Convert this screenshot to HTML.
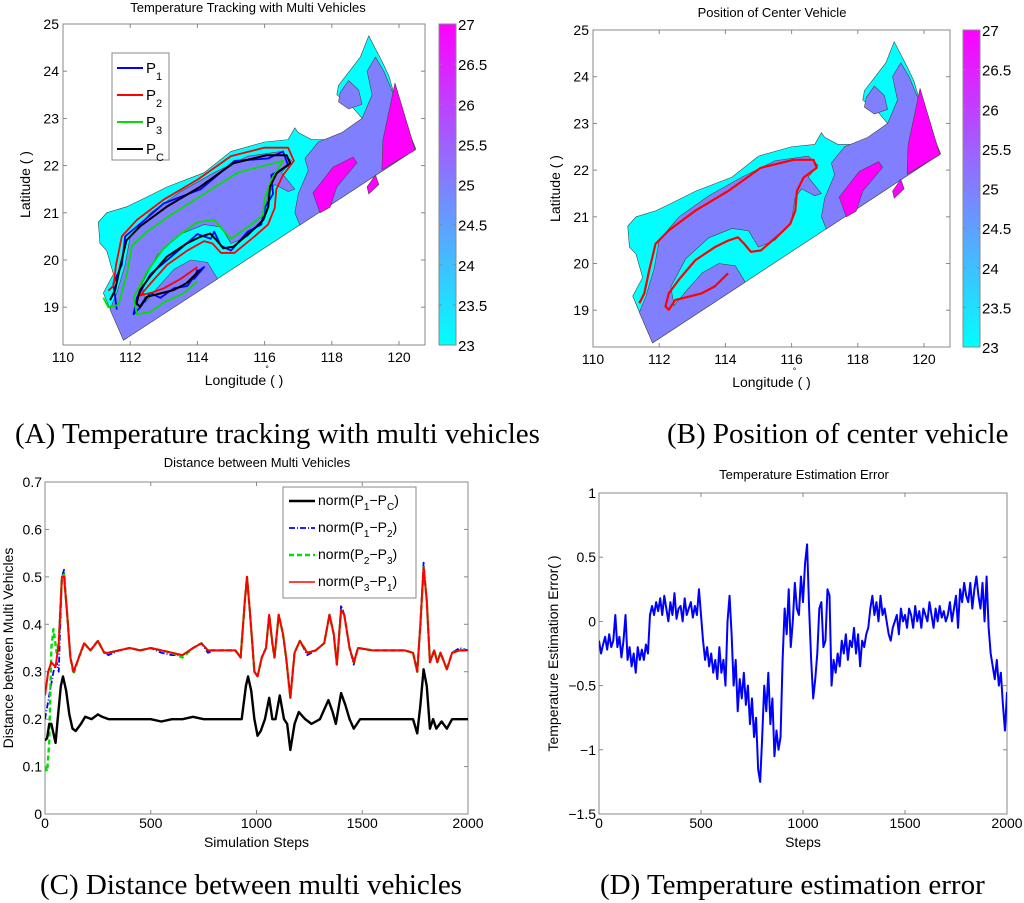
<!DOCTYPE html>
<html><head><meta charset="utf-8"><style>
body{margin:0;background:#fff}
svg{display:block;font-family:"Liberation Sans",sans-serif}
.cap{font-family:"Liberation Serif",serif;font-size:29px}
</style></head><body>
<svg id="root" width="1024" height="903" viewBox="0 0 1024 903">
<defs>
<linearGradient id="cool" x1="0" y1="1" x2="0" y2="0"><stop offset="0" stop-color="#00ffff"/><stop offset="1" stop-color="#ff00ff"/></linearGradient>
<clipPath id="clipA"><rect x="63" y="24" width="362" height="321"/></clipPath>
<clipPath id="clipB"><rect x="593" y="30" width="357" height="317"/></clipPath>
<clipPath id="clipC"><rect x="45" y="482" width="423" height="332"/></clipPath>
<clipPath id="clipD"><rect x="599" y="493" width="408" height="321"/></clipPath>
</defs>
<g id="gA"></g>
<g id="gB"></g>
<g id="gC"></g>
<g id="gD"></g>
<text class="cap" x="15" y="443">(A) Temperature tracking with multi vehicles</text>
<text class="cap" x="667" y="443">(B) Position of center vehicle</text>
<text class="cap" x="40" y="894">(C) Distance between multi vehicles</text>
<text class="cap" x="600" y="894">(D) Temperature estimation error</text>
</svg>
<script>
// ---- map data (lon, lat) ----
const outlineLon=[111.8,120.5,119.9,119.7,119.5,119.1,118.85,118.2,118.15,118.6,118.9,119.1,118.5,118.0,117.4,117.0,116.9,116.7,116.0,115.0,114.2,113.1,112.4,111.9,111.3,111.05,111.1,111.3,111.5,111.2];
const outlineLat=[18.3,22.35,23.4,23.9,24.2,24.75,24.3,23.7,23.5,23.25,23.0,22.9,22.65,22.55,22.55,22.7,22.8,22.55,22.5,22.3,21.85,21.55,21.3,21.13,21.0,20.8,20.35,20.2,19.7,19.3];
const purpleSWLon=[111.8,114.6,114.3,113.8,113.3,112.8,112.45,112.35,112.8,113.5,114.2,114.7,115.0,115.5,116.0,116.1,116.3,116.7,116.9,116.5,116.8,116.5,115.5,114.5,113.5,112.6,112.0,111.85,111.6,111.4];
const purpleSWLat=[18.3,19.6,19.95,20.0,19.8,19.4,19.1,19.5,20.1,20.55,20.75,20.7,20.35,20.5,20.9,21.4,21.6,21.45,21.5,21.85,22.1,22.3,22.2,21.85,21.45,21.0,20.5,19.9,19.3,18.95];
const purpleELon=[117.05,120.5,119.9,119.55,119.3,119.05,119.2,118.9,118.3,117.6,117.2,117.3,117.0,116.9];
const purpleELat=[20.74,22.35,23.4,24.0,24.3,24.0,23.5,23.0,22.7,22.5,22.15,21.9,21.4,21.0];
const purpleHLon=[118.25,118.5,118.8,118.9,118.5,118.2];
const purpleHLat=[23.55,23.8,23.6,23.3,23.2,23.35];
const magARLon=[119.88,120.48,119.49,119.52,119.73];
const magARLat=[23.75,22.33,21.91,22.54,23.24];
const magBLon=[118.04,118.63,118.75,118.15,117.95,117.65,117.44];
const magBLat=[21.97,22.18,22.06,21.55,21.12,21.0,21.42];
const magCLon=[119.05,119.3,119.4,119.1];
const magCLat=[21.55,21.8,21.6,21.4];
// trajectories
const pcLon=[111.40,111.55,111.70,111.89,112.29,113.09,114.08,115.07,116.06,116.66,116.76,116.36,116.16,116.11,115.96,115.66,115.07,114.77,114.57,114.38,114.08,113.68,113.09,112.59,112.29,112.19,112.29,112.49,112.89,113.28,113.68,114.08];
const pcLat=[19.15,19.36,19.86,20.42,20.71,21.13,21.55,22.05,22.22,22.22,22.05,21.84,21.55,21.13,20.85,20.64,20.28,20.25,20.42,20.56,20.49,20.35,20.07,19.65,19.36,19.08,19.01,19.22,19.29,19.36,19.51,19.79];
const p2Lon=[111.35,111.5,111.58,111.75,112.2,113.0,114.0,115.0,116.0,116.7,116.87,116.55,116.35,116.3,116.1,115.7,115.1,114.7,114.45,114.2,113.7,113.1,112.6,112.3,112.6,113.0,113.5,114.0];
const p2Lat=[19.35,19.45,19.9,20.5,20.85,21.28,21.7,22.2,22.38,22.38,22.1,21.8,21.5,21.1,20.75,20.5,20.15,20.15,20.35,20.4,20.2,19.9,19.5,19.25,19.3,19.4,19.6,19.85];
const p3Lon=[111.2,111.35,111.65,111.9,112.05,112.5,113.2,114.2,115.2,116.0,116.55,116.2,116.0,115.95,115.6,115.0,114.8,114.5,114.0,113.5,113.0,112.5,112.1,112.2,112.6,113.0,113.6,114.0];
const p3Lat=[19.2,19.0,19.05,19.7,20.3,20.6,20.95,21.4,21.85,22.0,22.1,21.7,21.3,20.95,20.75,20.45,20.6,20.85,20.8,20.55,20.25,19.75,19.2,18.85,18.9,19.1,19.3,19.55];
const p1Lon=[111.6,111.5,111.75,111.85,112.35,113.0,114.1,115.1,116.1,116.55,116.7,116.2,116.25,116.0,115.9,115.5,115.0,114.7,114.5,114.4,114.0,113.6,113.1,112.6,112.2,112.1,112.3,112.6,112.9,113.3,113.7,114.0,114.2,113.9,114.0];
const p1Lat=[18.95,19.5,19.9,20.5,20.8,21.2,21.5,22.1,22.15,22.3,22.0,21.8,21.4,21.1,20.75,20.6,20.2,20.3,20.6,20.45,20.55,20.3,20.0,19.7,19.2,18.85,19.0,19.3,19.2,19.4,19.45,19.75,19.85,19.6,19.8];
// ---- chart C data ----
const cStepsK=[0,10,20,30,40,50,60,75,85,100,115,130,145,170,190,220,250,270,300,350,400,450,500,550,600,650,700,750,800,850,900,930,950,960,975,990,1005,1020,1040,1060,1075,1090,1110,1130,1145,1160,1180,1200,1230,1260,1300,1340,1360,1375,1400,1420,1440,1460,1490,1550,1600,1650,1700,1740,1760,1775,1790,1805,1820,1835,1850,1875,1900,1925,1960,2000];
const cValsK=[.155,.16,.19,.19,.17,.15,.2,.27,.29,.26,.21,.18,.175,.19,.205,.2,.21,.205,.2,.2,.2,.2,.2,.195,.2,.2,.205,.2,.2,.2,.2,.2,.27,.29,.26,.2,.165,.175,.2,.245,.2,.2,.25,.2,.19,.135,.19,.215,.2,.19,.2,.24,.215,.19,.255,.23,.2,.18,.2,.2,.2,.2,.2,.2,.17,.23,.305,.27,.18,.2,.18,.195,.18,.2,.2,.2];
const cStepsR=[0,15,30,50,65,80,90,105,120,135,160,185,215,250,280,300,350,400,450,500,550,600,650,700,740,770,800,850,900,925,945,955,970,990,1005,1025,1045,1060,1075,1085,1105,1125,1140,1160,1180,1205,1240,1280,1320,1345,1365,1380,1400,1415,1440,1460,1480,1550,1600,1650,1700,1740,1760,1775,1790,1805,1820,1840,1855,1870,1900,1925,1960,2000];
const cValsR=[.25,.3,.32,.31,.36,.5,.5,.42,.33,.3,.33,.36,.345,.365,.34,.34,.345,.35,.345,.35,.345,.34,.335,.35,.36,.345,.345,.345,.345,.33,.45,.5,.42,.3,.29,.33,.35,.42,.36,.33,.42,.38,.33,.245,.34,.365,.34,.345,.36,.42,.38,.315,.43,.42,.35,.32,.35,.345,.345,.345,.345,.34,.3,.4,.52,.45,.32,.345,.32,.34,.305,.34,.345,.345];
const cStepsG=[0,10,20,30,40,55,65,80,90,105,120,135,160,185,215,250,280,300,350,400,450,500,550,600,650,700,740,770,800,850,900,925,945,955,970,990,1005,1025,1045,1060,1075,1085,1105,1125,1140,1160,1180,1205,1240,1280,1320,1345,1365,1380,1400,1415,1440,1460,1480,1550,1600,1650,1700,1740,1760,1775,1790,1805,1820,1840,1855,1870,1900,1925,1960,2000];
const cValsG=[.1,.09,.15,.35,.39,.34,.36,.5,.505,.42,.33,.295,.33,.36,.345,.365,.34,.34,.345,.35,.345,.35,.345,.34,.33,.35,.36,.345,.345,.345,.345,.33,.45,.5,.42,.3,.29,.33,.35,.42,.36,.33,.42,.38,.33,.245,.34,.365,.34,.345,.36,.42,.38,.315,.43,.42,.35,.32,.35,.345,.345,.345,.345,.34,.3,.4,.52,.45,.32,.345,.32,.34,.305,.34,.345,.345];
const cStepsB=[0,20,40,55,65,80,90,105,120,135,160,185,215,250,280,300,350,400,450,500,550,600,650,700,740,770,800,850,900,925,945,955,970,990,1005,1025,1045,1060,1075,1085,1105,1125,1140,1160,1180,1205,1240,1280,1320,1345,1365,1380,1400,1415,1440,1460,1480,1550,1600,1650,1700,1740,1760,1775,1790,1805,1820,1840,1855,1870,1900,1925,1960,2000];
const cValsB=[.2,.25,.3,.32,.3,.5,.515,.42,.33,.3,.33,.36,.345,.365,.34,.335,.345,.35,.345,.35,.34,.335,.335,.35,.36,.34,.345,.345,.345,.33,.45,.5,.42,.3,.29,.33,.35,.42,.36,.33,.42,.38,.33,.245,.34,.365,.335,.345,.36,.42,.38,.315,.44,.42,.35,.315,.35,.345,.345,.345,.345,.34,.3,.4,.53,.45,.32,.345,.32,.34,.305,.34,.35,.345];
const cXTicks=[0,500,1000,1500,2000];
const cYTicks=[0,0.1,0.2,0.3,0.4,0.5,0.6,0.7];
// ---- chart D data (every 10 steps) ----
const dVals=[-0.15,-0.25,-0.18,-0.12,-0.22,-0.1,-0.2,-0.15,0.05,-0.2,-0.12,
-0.28,-0.15,0.05,-0.3,-0.2,-0.35,-0.25,-0.4,-0.2,-0.3,
-0.22,-0.3,-0.18,-0.25,0.05,0.12,0.05,0.15,0.08,0.18,
0.05,0.2,0.1,0.0,0.15,0.05,0.22,0.02,0.1,0.12,
0.0,0.18,0.05,0.1,0.15,0.03,0.12,0.05,0.25,0.05,
-0.15,-0.3,-0.2,-0.35,-0.25,-0.4,-0.3,-0.45,-0.2,-0.4,
-0.3,-0.5,0.0,0.2,-0.1,-0.5,-0.3,-0.7,-0.45,-0.6,
-0.4,-0.65,-0.5,-0.8,-0.6,-0.9,-0.75,-1.15,-1.25,-0.9,
-0.5,-0.7,-0.4,-0.8,-0.6,-1.05,-0.85,-1.0,-0.9,-0.3,
0.1,-0.1,0.25,-0.2,0.0,0.3,0.1,0.05,0.35,0.15,
0.45,0.6,0.1,-0.3,-0.6,-0.45,-0.25,0.1,0.15,-0.2,
-0.15,0.25,0.2,-0.5,-0.3,-0.4,-0.25,-0.35,-0.15,-0.25,
-0.1,-0.3,-0.15,-0.2,-0.05,-0.25,-0.1,-0.35,-0.15,-0.2,
-0.1,-0.05,0.1,0.2,0.05,0.15,0.0,0.2,0.05,0.1,
0.0,-0.1,-0.15,-0.05,0.0,0.05,-0.1,0.1,0.0,0.05,
-0.05,0.1,0.05,-0.05,0.12,0.0,0.08,-0.05,0.1,0.05,
0.0,0.15,0.05,-0.05,0.1,0.0,0.12,0.03,0.08,0.0,
0.05,0.15,0.0,0.1,0.2,-0.05,0.25,0.15,0.3,0.2,
0.15,0.3,0.1,0.25,0.35,0.2,0.1,0.3,0.0,0.35,
-0.05,-0.25,-0.35,-0.45,-0.3,-0.5,-0.4,-0.65,-0.85,-0.55];
const dStep=10;
const dXTicks=[0,500,1000,1500,2000];
const dYTicks=[-1.5,-1,-0.5,0,0.5,1];
const dYLabels=["\u22121.5","\u22121","\u22120.5","0","0.5","1"];
const lonTicks=[110,112,114,116,118,120];
const latTicks=[19,20,21,22,23,24,25];
const cbTicks=[23,23.5,24,24.5,25,25.5,26,26.5,27];

const NS="http://www.w3.org/2000/svg";
function mk(parent,tag,attrs){const e=document.createElementNS(NS,tag);for(const k in attrs)e.setAttribute(k,attrs[k]);parent.appendChild(e);return e;}
function txt(parent,x,y,s,size,anchor){const t=mk(parent,'text',{x:x,y:y,'font-size':size,'text-anchor':anchor||'middle'});t.textContent=s;return t;}

function drawMap(g,ax,clip,title,titleX,titleY,withLegend){
  const X=lon=>ax.l+(lon-110)*ax.sx, Y=lat=>ax.t+(25-lat)*ax.sy;
  const bg=mk(g,'rect',{x:ax.l,y:ax.t,width:ax.r-ax.l,height:ax.b-ax.t,fill:'#fff'});
  
  
  const mg=mk(g,'g',{'clip-path':'url(#'+clip+')'});
  const poly=(lo,la,fill,name)=>{const p=mk(mg,'polygon',{points:lo.map((v,i)=>X(v)+','+Y(la[i])).join(' '),fill:fill,stroke:'#444','stroke-width':0.6});
    
    };
  poly(outlineLon,outlineLat,'#00ffff','sea-region-cyan');
  poly(purpleSWLon,purpleSWLat,'#8080ff','sea-region-purple-west');
  poly(purpleELon,purpleELat,'#8080ff','sea-region-purple-east');
  poly(purpleHLon,purpleHLat,'#8080ff','sea-region-purple-hook');
  poly(magARLon,magARLat,'#ff00ff','sea-region-magenta-coast');
  poly(magBLon,magBLat,'#ff00ff','sea-region-magenta-blob');
  poly(magCLon,magCLat,'#ff00ff','sea-region-magenta-small');
  const path=(lo,la,col,w,name)=>{const p=mk(mg,'polyline',{points:lo.map((v,i)=>X(v)+','+Y(la[i])).join(' '),fill:'none',stroke:col,'stroke-width':w,'stroke-linejoin':'round'});
    
    };
  if(withLegend){
    path(p1Lon,p1Lat,'#0000ff',1.8,'trajectory-p1');
    path(p2Lon,p2Lat,'#ff0000',1.8,'trajectory-p2');
    path(p3Lon,p3Lat,'#00e000',1.8,'trajectory-p3');
    path(pcLon,pcLat,'#000',2,'trajectory-pc');
  } else {
    path(pcLon,pcLat,'#ff0000',2.2,'center-vehicle-path');
  }
  mk(g,'rect',{x:ax.l,y:ax.t,width:ax.r-ax.l,height:ax.b-ax.t,fill:'none',stroke:'#888','stroke-width':1});
  lonTicks.forEach(v=>{const x=X(v);mk(g,'line',{x1:x,x2:x,y1:ax.b,y2:ax.b-4,stroke:'#888'});mk(g,'line',{x1:x,x2:x,y1:ax.t,y2:ax.t+4,stroke:'#888'});
    const t=txt(g,x,ax.b+17,String(v),14);});
  latTicks.forEach(v=>{const y=Y(v);mk(g,'line',{x1:ax.l,x2:ax.l+4,y1:y,y2:y,stroke:'#888'});mk(g,'line',{x1:ax.r,x2:ax.r-4,y1:y,y2:y,stroke:'#888'});
    const t=txt(g,ax.l-4,y+5,String(v),14,'end');});
  const xl=txt(g,(ax.l+ax.r)/2,ax.b+40,'Longitude ( )',14);
  
  
  txt(g,(ax.l+ax.r)/2+23,ax.b+27,'°',9);
  const yl=txt(g,0,0,'Latitude ( )',14);
  yl.setAttribute('transform','translate('+(ax.l-33)+','+((ax.t+ax.b)/2)+') rotate(-90)');
  
  
  const tt=txt(g,titleX,titleY,title,13);
  
  
  const cb=mk(g,'rect',{x:ax.cbx,y:ax.t,width:17,height:ax.b-ax.t,fill:'url(#cool)',stroke:'#888'});
  
  
  cbTicks.forEach(v=>{const y=ax.b-(v-23)/4*(ax.b-ax.t);mk(g,'line',{x1:ax.cbx,x2:ax.cbx+3,y1:y,y2:y,stroke:'#888'});mk(g,'line',{x1:ax.cbx+17,x2:ax.cbx+14,y1:y,y2:y,stroke:'#888'});
    const t=txt(g,ax.cbx+19,y+6,String(v),15,'start');});
  if(withLegend){
    const lg=mk(g,'g',{});
    
    
    mk(lg,'rect',{x:112,y:53,width:57,height:107,fill:'#fff',stroke:'#888'});
    const items=[['#0000ff','1'],['#ff0000','2'],['#00e000','3'],['#000','C']];
    items.forEach((it,i)=>{const y=68+i*27;mk(lg,'line',{x1:117,x2:143,y1:y,y2:y,stroke:it[0],'stroke-width':2});
      const t=mk(lg,'text',{x:146,y:y+5,'font-size':15});t.textContent='P';
      const s=mk(t,'tspan',{dy:7,'font-size':11});s.textContent=it[1];
      
      });
  }
}
drawMap(document.getElementById('gA'),{l:63,r:425,t:24,b:345,sx:33.6,sy:47.2,cbx:439},'clipA','Temperature Tracking with Multi Vehicles',248,12,true);
drawMap(document.getElementById('gB'),{l:593,r:950,t:30,b:347,sx:33.1,sy:46.7,cbx:963},'clipB','Position of Center Vehicle',772,17,false);

// ---- chart C ----
(function(){
  const g=document.getElementById('gC');
  const L=45,R=468,T=482,B=814;
  const X=s=>L+s/2000*(R-L), Y=v=>B-v/0.7*(B-T);
  mk(g,'rect',{x:L,y:T,width:R-L,height:B-T,fill:'#fff',stroke:'#888'});
  cXTicks.forEach(v=>{const x=X(v);mk(g,'line',{x1:x,x2:x,y1:B,y2:B-4,stroke:'#888'});mk(g,'line',{x1:x,x2:x,y1:T,y2:T+4,stroke:'#888'});
    const t=txt(g,x,B+14,String(v),14);});
  cYTicks.forEach(v=>{const y=Y(v);mk(g,'line',{x1:L,x2:L+4,y1:y,y2:y,stroke:'#888'});mk(g,'line',{x1:R,x2:R-4,y1:y,y2:y,stroke:'#888'});
    const t=txt(g,L-3,y+5,String(v),14,'end');});
  const cg=mk(g,'g',{'clip-path':'url(#clipC)'});
  const line=(xs,vs,col,w,dash,name)=>{const a={points:xs.map((s,i)=>X(s)+','+Y(vs[i])).join(' '),fill:'none',stroke:col,'stroke-width':w,'stroke-linejoin':'round'};if(dash)a['stroke-dasharray']=dash;const p=mk(cg,'polyline',a);
    
    };
  line(cStepsB,cValsB,'#0000ff',1.8,'6 2 1 2','series-p1-p2');
  line(cStepsG,cValsG,'#00e000',2.4,'5 3','series-p2-p3');
  line(cStepsR,cValsR,'#ff0000',2,null,'series-p3-p1');
  line(cStepsK,cValsK,'#000',2.4,null,'series-p1-pc');
  const tt=txt(g,257,467,'Distance between Multi Vehicles',13);
  
  
  const xl=txt(g,(L+R)/2,B+33,'Simulation Steps',14);
  
  
  const yl=txt(g,0,0,'Distance between Multi Vehicles',14);
  yl.setAttribute('transform','translate(13,'+(T+B)/2+') rotate(-90)');
  
  
  const lg=mk(g,'g',{});
  
  
  mk(lg,'rect',{x:283,y:487,width:133,height:111,fill:'#fff',stroke:'#888'});
  const items=[['#000',null,'1','C',2.4],['#0000ff','6 2 1 2','1','2',1.8],['#00e000','5 3','2','3',2.4],['#ff0000',null,'3','1',1.4]];
  items.forEach((it,i)=>{const y=501+i*27;const a={x1:289,x2:315,y1:y,y2:y,stroke:it[0],'stroke-width':it[4]};if(it[1])a['stroke-dasharray']=it[1];mk(lg,'line',a);
    const t=mk(lg,'text',{x:318,y:y+4,'font-size':14});
    
    
    const parts=[['norm(P',0,14],[it[2],5,10],['\u2212P',-5,14],[it[3],5,10],[')',-5,14]];
    parts.forEach(p=>{const s=mk(t,'tspan',{dy:p[1],'font-size':p[2]});s.textContent=p[0];});});
})();

// ---- chart D ----
(function(){
  const g=document.getElementById('gD');
  const L=599,R=1007,T=493,B=814;
  const X=s=>L+s/2000*(R-L), Y=v=>B-(v+1.5)/2.5*(B-T);
  mk(g,'rect',{x:L,y:T,width:R-L,height:B-T,fill:'#fff',stroke:'#888'});
  dXTicks.forEach(v=>{const x=X(v);mk(g,'line',{x1:x,x2:x,y1:B,y2:B-4,stroke:'#888'});mk(g,'line',{x1:x,x2:x,y1:T,y2:T+4,stroke:'#888'});
    const t=txt(g,x,B+14,String(v),14);});
  dYTicks.forEach((v,i)=>{const y=Y(v);mk(g,'line',{x1:L,x2:L+4,y1:y,y2:y,stroke:'#888'});mk(g,'line',{x1:R,x2:R-4,y1:y,y2:y,stroke:'#888'});
    const t=txt(g,L-3,y+5,dYLabels[i],14,'end');});
  const cg=mk(g,'g',{'clip-path':'url(#clipD)'});
  const p=mk(cg,'polyline',{points:dVals.map((v,i)=>X(i*dStep)+','+Y(v)).join(' '),fill:'none',stroke:'#0000ff','stroke-width':2,'stroke-linejoin':'round'});
  
  
  const tt=txt(g,804,479,'Temperature Estimation Error',13);
  
  
  const xl=txt(g,(L+R)/2,B+33,'Steps',14);
  
  
  const yl=txt(g,0,0,'Temperature Estimation Error( )',14);
  yl.setAttribute('transform','translate(558,'+(T+B)/2+') rotate(-90)');
  
  
})();
</script>
</body></html>
